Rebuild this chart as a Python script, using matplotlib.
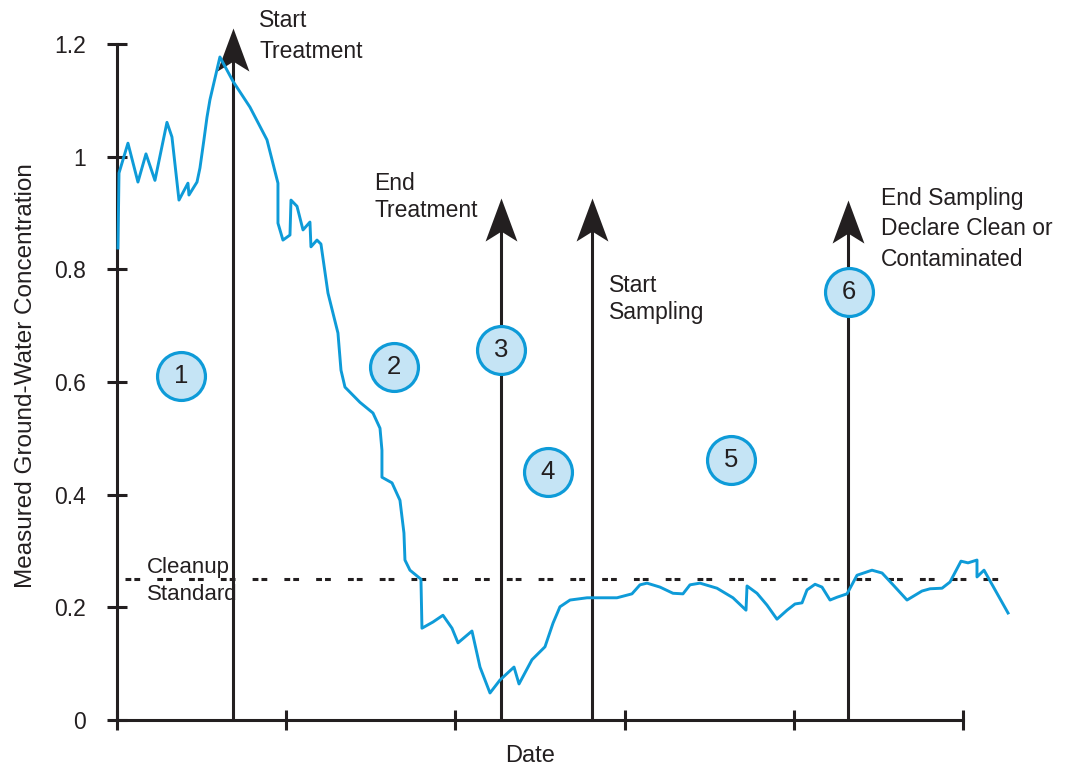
import numpy as np
import matplotlib
matplotlib.use("Agg")
import matplotlib.pyplot as plt
from matplotlib.path import Path

plt.rcParams['font.family'] = ['Liberation Sans', 'DejaVu Sans']

# measured concentration vs date (date in arbitrary units, ticks every 2)
date = [0.012, 0.024, 0.130, 0.248, 0.343, 0.449, 0.591, 0.650, 0.733, 0.839,
        0.851, 0.946, 0.981, 1.028, 1.064, 1.099, 1.217, 1.371, 1.572, 1.773,
        1.903, 1.903, 1.962, 2.045, 2.057, 2.128, 2.199, 2.281, 2.293, 2.364,
        2.411, 2.494, 2.612, 2.648, 2.695, 2.872, 3.026, 3.109, 3.132, 3.132,
        3.251, 3.345, 3.392, 3.404, 3.463, 3.593, 3.605, 3.735, 3.853, 3.960,
        4.031, 4.196, 4.291, 4.409, 4.527, 4.693, 4.752, 4.905, 5.059, 5.154,
        5.236, 5.355, 5.556, 5.910, 6.087, 6.182, 6.265, 6.418, 6.572, 6.690,
        6.773, 6.891, 7.092, 7.281, 7.435, 7.447, 7.565, 7.683, 7.801, 7.920,
        8.014, 8.097, 8.156, 8.251, 8.333, 8.428, 8.511, 8.629, 8.747, 8.924,
        9.043, 9.173, 9.338, 9.515, 9.610, 9.752, 9.846, 9.976, 10.059, 10.165,
        10.165, 10.248, 10.532]
conc = [0.838, 0.971, 1.024, 0.955, 1.005, 0.958, 1.061, 1.035, 0.923, 0.953,
        0.932, 0.955, 0.980, 1.030, 1.070, 1.101, 1.177, 1.134, 1.088, 1.030,
        0.953, 0.882, 0.852, 0.861, 0.923, 0.912, 0.870, 0.884, 0.840, 0.852,
        0.845, 0.758, 0.687, 0.621, 0.591, 0.564, 0.545, 0.518, 0.479, 0.431,
        0.421, 0.390, 0.332, 0.284, 0.266, 0.250, 0.163, 0.174, 0.186, 0.163,
        0.137, 0.158, 0.094, 0.048, 0.071, 0.094, 0.064, 0.107, 0.130, 0.172,
        0.201, 0.213, 0.217, 0.217, 0.224, 0.240, 0.243, 0.236, 0.225, 0.224,
        0.240, 0.243, 0.234, 0.217, 0.195, 0.238, 0.225, 0.204, 0.179, 0.195,
        0.206, 0.208, 0.231, 0.241, 0.236, 0.213, 0.218, 0.224, 0.257, 0.266,
        0.261, 0.240, 0.213, 0.229, 0.233, 0.234, 0.245, 0.282, 0.279, 0.284,
        0.254, 0.266, 0.190]

cleanup_standard = 0.25
cleanup_span = (0.10, 10.41)

# event arrows
event_x = [1.37, 4.54, 5.615, 8.64]
event_top = [1.228, 0.927, 0.927, 0.923]
event_text = ["Start\nTreatment", "End\nTreatment", "Start\nSampling",
              "End Sampling\nDeclare Clean or\nContaminated"]
event_text_pos = [(1.68, 1.262), (3.04, 0.973), (5.82, 0.791), (9.03, 0.946)]
event_spacing = [1.45, 1.25, 1.2, 1.4]

# numbered phases
phase_num = ["1", "2", "3", "4", "5", "6"]
phase_x = [0.757, 3.274, 4.539, 5.095, 7.258, 8.652]
phase_y = [0.611, 0.627, 0.657, 0.440, 0.462, 0.760]

yticks = [0, 0.2, 0.4, 0.6, 0.8, 1.0, 1.2]
ytick_labels = ["0", "0.2", "0.4", "0.6", "0.8", "1", "1.2"]
xticks = [0, 2, 4, 6, 8, 10]

black = '#231f20'
blue = '#0e9bd8'
light_blue = '#c5e4f5'

fig = plt.figure(figsize=(10.72, 7.70), dpi=100)
ax = fig.add_axes([0.1091, 0.0649, 0.8366, 0.8779])
ax.set_xlim(0, 10.6)
ax.set_ylim(0, 1.2)

for s in ['top', 'right']:
    ax.spines[s].set_visible(False)
for s in ['left', 'bottom']:
    ax.spines[s].set_linewidth(2.2)
    ax.spines[s].set_color(black)
ax.spines['bottom'].set_bounds(0, 10)

ax.set_yticks(yticks)
ax.set_yticklabels(ytick_labels)
ax.set_xticks(xticks)
ax.set_xticklabels([])
ax.tick_params(axis='y', direction='inout', length=15, width=2.2, color=black,
               labelsize=16.5, labelcolor=black, pad=15)
ax.tick_params(axis='x', direction='inout', length=15, width=2.2, color=black)

ax.set_ylabel("Measured Ground-Water Concentration", fontsize=17.5, color=black)
ax.yaxis.set_label_coords(-0.0895, 0.51)
ax.set_xlabel("Date", fontsize=17, color=black, va='top')
ax.xaxis.set_label_coords(0.4605, -0.037)

# cleanup standard line
ax.plot(cleanup_span, [cleanup_standard, cleanup_standard], color=black, lw=2.2,
        linestyle=(0, (1.9, 1.0, 1.9, 5.6)), zorder=2)
ax.text(0.355, 0.290, "Cleanup\nStandard", fontsize=16, color=black,
        va='top', ha='left', linespacing=1.4, zorder=3)

# concentration curve
ax.plot(date, conc, color=blue, lw=2.1, solid_joinstyle='round', zorder=4,
        clip_on=False)

# arrow head marker
head = Path([(0, 0), (-0.37, -1), (0, -0.77), (0.37, -1), (0, 0)],
            [Path.MOVETO, Path.LINETO, Path.LINETO, Path.LINETO, Path.CLOSEPOLY])
for x, top, txt, pos, sp in zip(event_x, event_top, event_text, event_text_pos,
                                event_spacing):
    ax.plot([x, x], [0, top - 0.05], color=black, lw=2.2, zorder=3,
            clip_on=False, solid_capstyle='butt')
    ax.plot([x], [top], marker=head, markersize=62, color=black, mew=0,
            zorder=3, clip_on=False)
    ax.text(pos[0], pos[1], txt, fontsize=16.5, color=black, va='top',
            ha='left', linespacing=sp)

# numbered circles
ax.scatter(phase_x, phase_y, s=1190, facecolor=light_blue, edgecolor=blue,
           linewidths=2.3, zorder=5)
for n, x, y in zip(phase_num, phase_x, phase_y):
    ax.text(x, y, n, fontsize=18.5, color=black, ha='center', va='center',
            zorder=6)

fig.savefig("out.png", dpi=100)
